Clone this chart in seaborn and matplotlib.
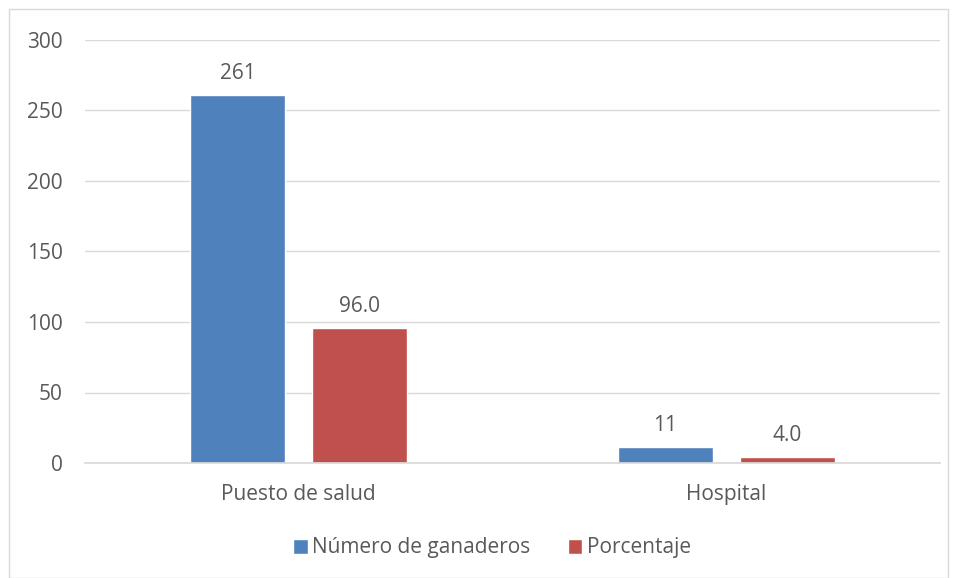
import matplotlib
matplotlib.use("Agg")
import matplotlib.pyplot as plt
import seaborn as sns
import pandas as pd
from matplotlib.patches import Rectangle

categories = ["Puesto de salud", "Hospital"]
series_names = ["Número de ganaderos", "Porcentaje"]
ganaderos = [261, 11]
porcentaje = [96.0, 4.0]
yticks = [0, 50, 100, 150, 200, 250, 300]

df = pd.DataFrame({
    "cat": categories * 2,
    "serie": [series_names[0]] * 2 + [series_names[1]] * 2,
    "val": ganaderos + porcentaje,
})

sns.set_theme(style="white")
plt.rcParams["font.family"] = ["Open Sans", "DejaVu Sans"]
txt = "#595959"
fs = 15

fig = plt.figure(figsize=(9.57, 5.78), dpi=100)
ax = fig.add_axes([85/957, 1 - 463/578, 855/957, 423/578])

sns.barplot(data=df, x="cat", y="val", hue="serie", order=categories,
            hue_order=series_names, palette=["#4F81BD", "#C0504D"],
            width=0.571, gap=0.2214, saturation=1, ax=ax, legend=True)

ax.set_ylim(0, 300)
ax.set_xlim(-0.5, 1.5)
ax.set_yticks(yticks)
ax.set_yticklabels([str(t) for t in yticks], fontsize=fs, color=txt)
ax.grid(axis="y", color="#D9D9D9", linewidth=1)
ax.set_axisbelow(True)
for s in ["left", "right", "top"]:
    ax.spines[s].set_visible(False)
ax.spines["bottom"].set_color("#D9D9D9")
ax.tick_params(axis="both", length=0)
ax.tick_params(axis="y", pad=16)
ax.tick_params(axis="x", pad=15)
ax.set_xticks(range(len(categories)))
ax.set_xticklabels(categories, fontsize=fs, color=txt)
ax.set_xlabel("")
ax.set_ylabel("")

fmts = ["{:.0f}", "{:.1f}"]
for cont, fmt in zip(ax.containers, fmts):
    ax.bar_label(cont, labels=[fmt.format(v) for v in cont.datavalues],
                 padding=8, fontsize=fs, color=txt)

handles, labels = ax.get_legend_handles_labels()
ax.legend(handles, labels, loc="center", bbox_to_anchor=(492/957, 1 - 548/578),
          bbox_transform=fig.transFigure, ncol=2, frameon=False,
          fontsize=fs, labelcolor=txt, handlelength=0.7, handleheight=0.7,
          handletextpad=0.2, columnspacing=1.8)

fig.patches.append(Rectangle((9/957, 0), 939/957, 1 - 9/578, transform=fig.transFigure,
                             fill=False, edgecolor="#D9D9D9", linewidth=1))

fig.savefig("out.png", dpi=100)
